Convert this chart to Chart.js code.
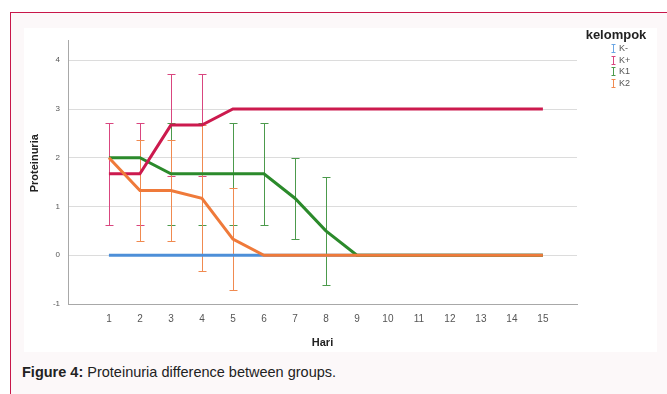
<!DOCTYPE html>
<html>
<head>
<meta charset="utf-8">
<script src="https://cdn.jsdelivr.net/npm/chart.js@4"></script>
<style>
  html, body { margin:0; padding:0; background:#fff; }
  body { width:667px; height:394px; overflow:hidden; position:relative; font-family:"Liberation Sans", Arial, sans-serif; }
  .frame { position:absolute; left:10px; top:12px; width:700px; height:420px; border:1.5px solid #c8174a; background:#fcf8f9; box-sizing:border-box; }
  .panel { position:absolute; left:24px; top:28px; width:633px; height:324px; background:#fff; }
  .caption { position:absolute; left:22px; top:364px; font-size:14.5px; color:#222; white-space:nowrap; }
  .caption b { font-weight:bold; }
</style>
</head>
<body>
<div class="frame"></div>
<div class="panel"><canvas id="chart" width="633" height="324"></canvas></div>
<div class="caption"><b>Figure 4:</b> Proteinuria difference between groups.</div>
<script>
// data
const days = [1,2,3,4,5,6,7,8,9,10,11,12,13,14,15];
const yTicks = [-1,0,1,2,3,4];
const groupLabels = ['K-','K+','K1','K2'];

const kMinus    = [0,0,0,0,0,0,0,0,0,0,0,0,0,0,0];
const kMinusErr = [0,0,0,0,0,0,0,0,0,0,0,0,0,0,0];
const kPlus     = [1.67,1.67,2.67,2.67,3,3,3,3,3,3,3,3,3,3,3];
const kPlusErr  = [1.04,1.04,1.04,1.04,0,0,0,0,0,0,0,0,0,0,0];
const k1        = [2,2,1.67,1.67,1.67,1.67,1.17,0.5,0,0,0,0,0,0,0];
const k1Err     = [0,0,1.04,1.04,1.04,1.04,0.83,1.1,0,0,0,0,0,0,0];
const k2        = [2,1.33,1.33,1.17,0.33,0,0,0,0,0,0,0,0,0,0];
const k2Err     = [0,1.04,1.04,1.5,1.04,0,0,0,0,0,0,0,0,0,0];

const lineColors = ['#4d8fd8','#cc1a4e','#2b8a2b','#ef7a3a'];
const barColors  = ['#6aa6e4','#d9467f','#4c9a4c','#f08a50'];

const FONT = '"Liberation Sans", Arial, sans-serif';

function pts(vals){ return days.map((d,i)=>({x:d, y:vals[i]})); }

const errs = [kMinusErr, kPlusErr, k1Err, k2Err];
const series = [kMinus, kPlus, k1, k2];
const orders = [3,1,2,0];

const datasets = series.map((s,i)=>({
  label: groupLabels[i],
  data: pts(s),
  borderColor: lineColors[i],
  backgroundColor: lineColors[i],
  borderWidth: 3,
  pointRadius: 0,
  tension: 0,
  fill: false,
  order: orders[i],
  errBars: errs[i],
  barColor: barColors[i]
}));

// error bars, drawn under the lines
const errorBars = {
  id: 'errorBars',
  beforeDatasetsDraw(chart){
    const {ctx, scales:{x, y}} = chart;
    ctx.save();
    ctx.lineWidth = 1;
    chart.data.datasets.forEach(ds=>{
      ctx.strokeStyle = ds.barColor;
      ds.data.forEach((p,i)=>{
        const e = ds.errBars[i];
        if (!e) return;
        const px = Math.round(x.getPixelForValue(p.x)) + 0.5;
        const top = Math.round(y.getPixelForValue(p.y + e)) + 0.5;
        const bot = Math.round(y.getPixelForValue(p.y - e)) + 0.5;
        ctx.beginPath();
        ctx.moveTo(px, top); ctx.lineTo(px, bot);
        ctx.moveTo(px-4, top); ctx.lineTo(px+4, top);
        ctx.moveTo(px-4, bot); ctx.lineTo(px+4, bot);
        ctx.stroke();
      });
    });
    ctx.restore();
  }
};

// legend in SPSS style: title + error bar icons
const groupLegend = {
  id: 'groupLegend',
  afterDraw(chart){
    const ctx = chart.ctx;
    ctx.save();
    ctx.fillStyle = '#222';
    ctx.font = 'bold 13px ' + FONT;
    ctx.textAlign = 'center';
    ctx.textBaseline = 'middle';
    ctx.fillText('kelompok', 592, 7);
    ctx.textAlign = 'left';
    ctx.font = '9px ' + FONT;
    chart.data.datasets.forEach((ds,i)=>{
      const cy = Math.round(20 + i*11.5) + 0.5;
      const cx = 589.5;
      ctx.strokeStyle = ds.barColor;
      ctx.lineWidth = 1;
      ctx.beginPath();
      ctx.moveTo(cx, cy-4); ctx.lineTo(cx, cy+4);
      ctx.moveTo(cx-2, cy-4); ctx.lineTo(cx+2, cy-4);
      ctx.moveTo(cx-2, cy+4); ctx.lineTo(cx+2, cy+4);
      ctx.stroke();
      ctx.fillStyle = '#555';
      ctx.fillText(ds.label, 595, cy);
    });
    ctx.restore();
  }
};

new Chart(document.getElementById('chart'), {
  type: 'line',
  data: { datasets },
  plugins: [errorBars, groupLegend],
  options: {
    responsive: false,
    animation: false,
    layout: { padding: { top: 2, right: 80, left: 0, bottom: 0 } },
    plugins: { legend: { display: false }, tooltip: { enabled: false } },
    scales: {
      x: {
        type: 'linear', min: -0.32, max: 16.1,
        afterBuildTicks(s){ s.ticks = days.map(v=>({value:v})); },
        afterFit(s){ s.height = 48; },
        grid: { display: false, drawTicks: false },
        border: { color: '#a8a8a8', width: 1 },
        ticks: { padding: 9, color: '#555', font: { family: FONT, size: 10 }, maxRotation: 0, autoSkip: false },
        title: { display: true, text: 'Hari', color: '#222', font: { family: FONT, size: 11, weight: 'bold' }, padding: { top: 0, bottom: 2 } }
      },
      y: {
        min: -1, max: 4.4,
        afterBuildTicks(s){ s.ticks = yTicks.map(v=>({value:v})); },
        afterFit(s){ s.width = 44; },
        grid: { color: '#dcdcdc', drawTicks: false },
        border: { color: '#a8a8a8', width: 1 },
        ticks: { padding: 8, color: '#555', font: { family: FONT, size: 8 } },
        title: { display: true, text: '\u00a0\u00a0\u00a0\u00a0\u00a0\u00a0Proteinuria', color: '#222', font: { family: FONT, size: 11, weight: 'bold' }, padding: { top: 4, bottom: 0 } }
      }
    }
  }
});
</script>
</body>
</html>
